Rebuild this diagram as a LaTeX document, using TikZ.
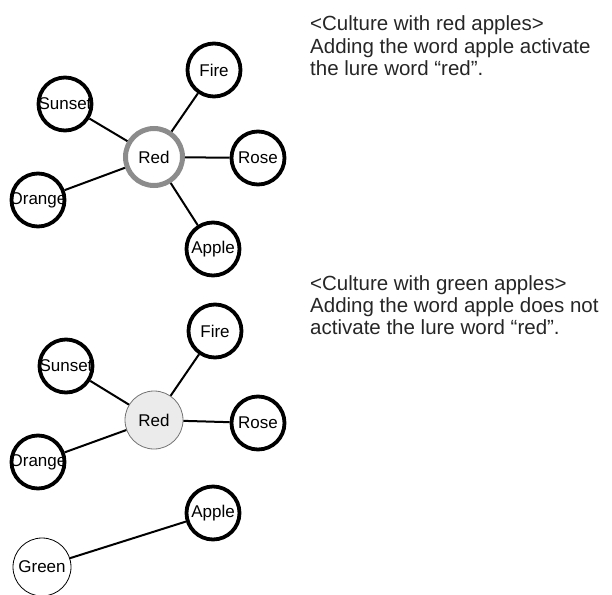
\documentclass[tikz,border=0pt]{standalone}
\usepackage{fontspec}
\setmainfont{Liberation Sans}
\newcommand\nlbl[1]{\makebox[0pt]{#1}}
\begin{document}
\begin{tikzpicture}[x=1pt, y=-1pt,
  word/.style={circle, draw=black, line width=3.8pt, minimum size=53pt, inner sep=0pt,
    font=\fontsize{17}{18}\selectfont},
  hub/.style={circle, draw=black!45, line width=5pt, minimum size=57pt, inner sep=0pt,
    font=\fontsize{17}{18}\selectfont},
  hubfaint/.style={circle, draw=black!55, fill=black!8, line width=0.8pt, minimum size=58pt, inner sep=0pt,
    font=\fontsize{17}{18}\selectfont},
  plain/.style={circle, draw=black, line width=0.8pt, minimum size=58pt, inner sep=0pt,
    font=\fontsize{17}{18}\selectfont},
  link/.style={line width=2pt},
  note/.style={anchor=base west, align=left, inner sep=0pt,
    font=\fontsize{20.5}{22}\selectfont, text=black!85}]
\useasboundingbox (0,0) rectangle (612,594);

% network with the "red apples" association
\node[hub]  (r1) at (154,157) {\nlbl{Red}};
\node[word] (f1) at (214,70)  {\nlbl{Fire}};
\node[word] (s1) at (65,104)  {\nlbl{Sunset}};
\node[word] (o1) at (38,200)  {\nlbl{Orange}};
\node[word] (ro1) at (258,158) {\nlbl{Rose}};
\node[word] (a1) at (213,249) {\nlbl{Apple}};
\draw[link] (r1) -- (f1);
\draw[link] (r1) -- (s1);
\draw[link] (r1) -- (o1);
\draw[link] (r1) -- (ro1);
\draw[link] (r1) -- (a1);

% network with the "green apples" association
\node[hubfaint] (r2) at (154,420) {\nlbl{Red}};
\node[word] (f2) at (215,331) {\nlbl{Fire}};
\node[word] (s2) at (66,366)  {\nlbl{Sunset}};
\node[word] (o2) at (38,462)  {\nlbl{Orange}};
\node[word] (ro2) at (258,423) {\nlbl{Rose}};
\node[word] (a2) at (213,513) {\nlbl{Apple}};
\node[plain] (g2) at (42,567) {\nlbl{Green}};
\draw[link] (r2) -- (f2);
\draw[link] (r2) -- (s2);
\draw[link] (r2) -- (o2);
\draw[link] (r2) -- (ro2);
\draw[link] (g2) -- (a2);

% captions (anchored at the baseline of their last line)
\node[note] (t1) at (310,75) {<Culture with red apples>\\Adding the word apple activate\\the lure word “red”.};
\node[note] (t2) at (310,334) {<Culture with green apples>\\Adding the word apple does not\\activate the lure word “red”.};
\end{tikzpicture}
\end{document}
